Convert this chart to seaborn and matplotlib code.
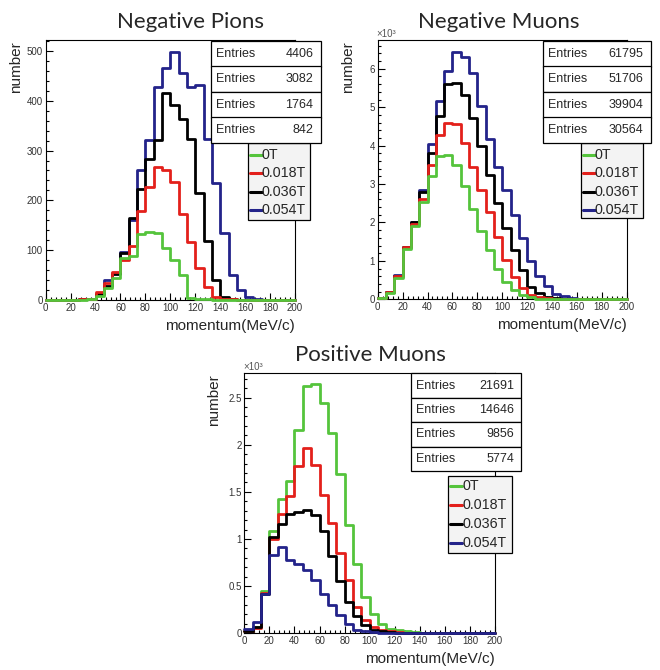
import numpy as np
import pandas as pd
import matplotlib
matplotlib.use("Agg")
import matplotlib.pyplot as plt
import seaborn as sns
from matplotlib.patches import Rectangle
from matplotlib.lines import Line2D
from matplotlib.ticker import MultipleLocator, FuncFormatter

# ---------------- data ----------------
bin_edges = [i * 200 / 30 for i in range(31)]          # 30 bins of 6.67 MeV/c
field_labels = ["0T", "0.018T", "0.036T", "0.054T"]

# Negative pions (counts per bin)
pion_0T   = [0, 0, 0, 1, 1, 2, 8, 25, 45, 85, 88, 132, 136, 135, 104, 80, 50, 5, 3, 2, 1, 0, 0, 0, 0, 0, 0, 0, 0, 0]
pion_018T = [0, 0, 0, 1, 2, 3, 17, 35, 57, 80, 108, 178, 226, 267, 262, 237, 173, 117, 65, 27, 6, 3, 2, 1, 0, 0, 0, 0, 0, 0]
pion_036T = [0, 0, 0, 1, 2, 3, 12, 28, 52, 95, 165, 222, 284, 322, 415, 391, 364, 324, 214, 119, 41, 7, 3, 1, 0, 0, 0, 0, 0, 0]
pion_054T = [0, 0, 0, 1, 2, 3, 12, 41, 55, 96, 160, 262, 322, 428, 465, 497, 455, 427, 432, 324, 234, 134, 50, 21, 7, 3, 1, 0, 0, 0]
pion_entries = [4406, 3082, 1764, 842]

# Negative muons (x10^3 per bin)
negmu_0T   = [0.03, 0.17, 0.55, 1.30, 1.92, 2.52, 3.20, 3.72, 3.76, 3.50, 2.95, 2.34, 1.77, 1.28, 0.80, 0.46, 0.24, 0.11, 0.05, 0.02, 0.01, 0.01, 0, 0, 0, 0, 0, 0, 0, 0]
negmu_018T = [0.03, 0.18, 0.60, 1.35, 1.95, 2.60, 3.50, 4.28, 4.60, 4.57, 4.06, 3.45, 2.85, 2.28, 1.63, 1.02, 0.59, 0.29, 0.11, 0.07, 0.04, 0.02, 0.01, 0, 0, 0, 0, 0, 0, 0]
negmu_036T = [0.03, 0.20, 0.60, 1.37, 2.00, 2.80, 3.82, 4.76, 5.60, 5.64, 5.32, 4.71, 4.00, 3.24, 2.50, 1.85, 1.28, 0.76, 0.33, 0.16, 0.07, 0.04, 0.02, 0.01, 0, 0, 0, 0, 0, 0]
negmu_054T = [0.03, 0.20, 0.62, 1.37, 2.00, 2.85, 4.04, 5.16, 5.95, 6.45, 6.32, 5.89, 5.02, 4.17, 3.45, 2.85, 2.20, 1.60, 1.00, 0.60, 0.35, 0.15, 0.08, 0.04, 0.02, 0.01, 0, 0, 0, 0]
negmu_entries = [61795, 51706, 39904, 30564]

# Positive muons (x10^3 per bin)
posmu_0T   = [0.02, 0.07, 0.45, 1.08, 1.42, 1.61, 2.16, 2.62, 2.64, 2.44, 2.12, 1.69, 1.15, 0.74, 0.39, 0.20, 0.10, 0.05, 0.03, 0.02, 0.01, 0, 0, 0, 0, 0, 0, 0, 0, 0]
posmu_018T = [0.02, 0.06, 0.43, 1.00, 1.27, 1.46, 1.77, 1.96, 1.78, 1.47, 1.17, 0.85, 0.57, 0.28, 0.14, 0.07, 0.03, 0.02, 0.01, 0, 0, 0, 0, 0, 0, 0, 0, 0, 0, 0]
posmu_036T = [0.02, 0.07, 0.42, 1.02, 1.16, 1.27, 1.29, 1.31, 1.25, 1.08, 0.82, 0.55, 0.33, 0.18, 0.09, 0.04, 0.02, 0.01, 0, 0, 0, 0, 0, 0, 0, 0, 0, 0, 0, 0]
posmu_054T = [0.05, 0.12, 0.42, 0.83, 0.91, 0.78, 0.74, 0.67, 0.57, 0.42, 0.30, 0.19, 0.10, 0.04, 0.02, 0.01, 0, 0, 0, 0, 0, 0, 0, 0, 0, 0, 0, 0, 0, 0]
posmu_entries = [21691, 14646, 9856, 5774]

x_ticks = [0, 20, 40, 60, 80, 100, 120, 140, 160, 180, 200]
titles = ["Negative Pions", "Negative Muons", "Positive Muons"]
x_label = "momentum(MeV/c)"
y_label = "number"

colors = {"0T": "#55c43c", "0.018T": "#e3201b", "0.036T": "#000000", "0.054T": "#23238a"}

# ---------------- style ----------------
sns.set_theme(style="white")
plt.rcParams["font.family"] = ["Liberation Sans", "DejaVu Sans"]

W, H = 660, 670
fig = plt.figure(figsize=(W / 100, H / 100), dpi=100)
fig.patch.set_facecolor("white")


def fx(x):
    return x / W


def fy(y):
    return 1 - y / H


centers = [(a + b) / 2 for a, b in zip(bin_edges[:-1], bin_edges[1:])]


def draw_panel(series, order, ymax, ymaj, ymin_step, title, title_xy, axbox,
               ebox, entries, lbox, rows_y, scale_label):
    left, top, right, bottom = axbox
    ax = fig.add_axes([fx(left), fy(bottom), (right - left) / W, (bottom - top) / H])
    for z, lab in enumerate(order):
        df = pd.DataFrame({"momentum": centers, "count": np.asarray(series[lab], float)})
        sns.histplot(data=df, x="momentum", weights="count", bins=bin_edges,
                     element="step", fill=False, color=colors[lab], linewidth=2.0,
                     ax=ax, clip_on=False, zorder=3 + z)
    ax.set_xlim(0, 200)
    ax.set_ylim(0, ymax)
    ax.set_xlabel("")
    ax.set_ylabel("")
    ax.set_xticks(x_ticks)
    ax.xaxis.set_minor_locator(MultipleLocator(4))
    ax.yaxis.set_major_locator(MultipleLocator(ymaj))
    ax.yaxis.set_minor_locator(MultipleLocator(ymin_step))
    ax.yaxis.set_major_formatter(FuncFormatter(lambda v, p: f"{v:g}"))
    ax.tick_params(which="both", direction="in", top=False, right=False,
                   bottom=True, left=True, labelsize=7, labelcolor="#333333",
                   color="black", width=0.8)
    ax.tick_params(which="major", length=5, pad=2)
    ax.tick_params(which="minor", length=2.5)
    for sp in ax.spines.values():
        sp.set_visible(True)
        sp.set_color("black")
        sp.set_linewidth(0.8)
    ax.set_facecolor("white")

    # title
    fig.text(fx(title_xy[0]), fy(title_xy[1]), title, ha="center", va="baseline",
             fontsize=16, family=["Lato", "DejaVu Sans"])
    # axis labels
    fig.text(fx(left - 30), fy(top + 1), y_label, rotation=90, ha="center", va="top",
             fontsize=11)
    fig.text(fx(right), fy(bottom + 30), x_label, ha="right", va="baseline", fontsize=11)
    if scale_label:
        fig.text(fx(left - 1), fy(top - 3), "×10³", ha="left", va="baseline",
                 fontsize=7, color="#555555")

    # entries boxes
    bx0, by0, bx1, by1 = ebox
    rh = (by1 - by0) / 4
    for i, n in enumerate(entries):
        yt = by0 + i * rh
        fig.add_artist(Rectangle((fx(bx0), fy(yt + rh)), (bx1 - bx0) / W, rh / H,
                                 transform=fig.transFigure, facecolor="white",
                                 edgecolor="black", lw=0.9, zorder=10))
        fig.text(fx(bx0 + 5), fy(yt + rh / 2), "Entries", ha="left", va="center",
                 fontsize=9, zorder=11)
        fig.text(fx(bx1 - 7), fy(yt + rh / 2), f"{n}", ha="right", va="center",
                 fontsize=9, zorder=11)

    # legend box
    lx0, ly0, lx1, ly1 = lbox
    fig.add_artist(Rectangle((fx(lx0), fy(ly1)), (lx1 - lx0) / W, (ly1 - ly0) / H,
                             transform=fig.transFigure, facecolor="#f3f3f3",
                             edgecolor="black", lw=0.9, zorder=9))
    for lab, yy in zip(field_labels, rows_y):
        fig.add_artist(Line2D([fx(lx0 + 2), fx(lx0 + 14)], [fy(yy), fy(yy)],
                              transform=fig.transFigure, color=colors[lab], lw=2.2,
                              zorder=11))
        fig.text(fx(lx0 + 14), fy(yy), lab, ha="left", va="center", fontsize=10.3,
                 zorder=11)
    return ax


order_neg = ["0.054T", "0.036T", "0.018T", "0T"]
order_pos = ["0T", "0.018T", "0.036T", "0.054T"]

draw_panel(dict(zip(field_labels, [pion_0T, pion_018T, pion_036T, pion_054T])),
           order_neg, 522, 100, 20, titles[0], (190, 27.5),
           (45.7, 40, 295, 300), (210.7, 41, 320.5, 143), pion_entries,
           (248, 143, 310, 220), [155, 173, 192, 210], False)

draw_panel(dict(zip(field_labels, [negmu_0T, negmu_018T, negmu_036T, negmu_054T])),
           order_neg, 6.75, 1, 0.2, titles[1], (499, 27.5),
           (377.7, 40, 626.7, 299.3), (542.7, 41, 650.5, 143), negmu_entries,
           (580.7, 143, 642.7, 218), [155, 173, 192, 210], True)

draw_panel(dict(zip(field_labels, [posmu_0T, posmu_018T, posmu_036T, posmu_054T])),
           order_pos, 2.76, 0.5, 0.1, titles[2], (370, 361),
           (244.3, 373, 495, 633.3), (410.7, 373.3, 521, 471), posmu_entries,
           (448.3, 476, 511.7, 553), [486, 505, 524, 543], True)

fig.savefig("out.png", dpi=100)
